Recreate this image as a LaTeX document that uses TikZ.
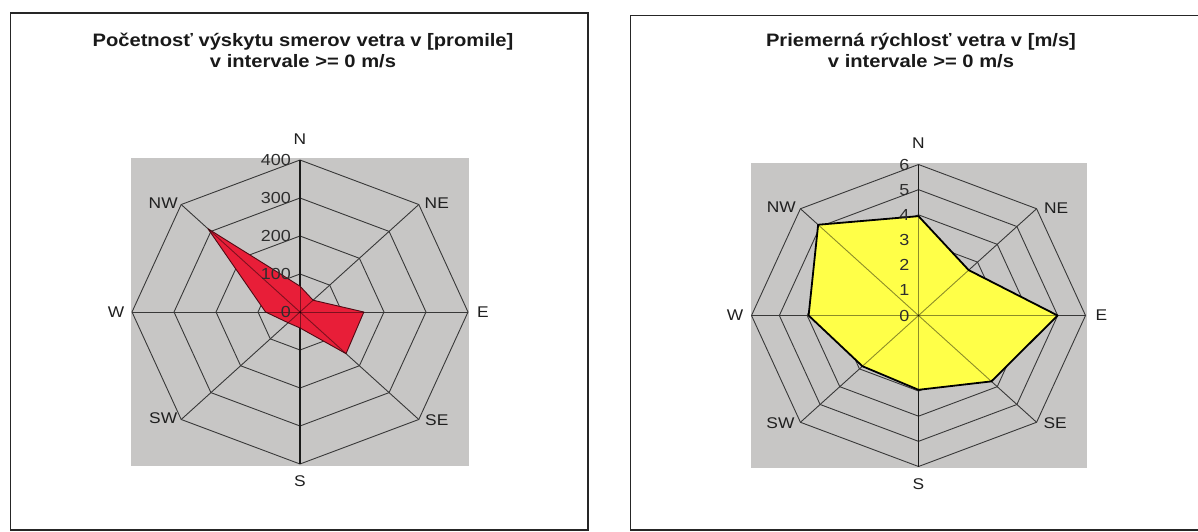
\documentclass[tikz,border=0pt]{standalone}
\usepackage{fontspec}
\setmainfont{Liberation Sans}[FakeStretch=1.12]
\definecolor{bggray}{RGB}{199,198,197}
\definecolor{windred}{RGB}{232,30,56}
\definecolor{windyellow}{RGB}{255,255,72}
\tikzset{
  frame/.style={draw=black!85, line width=1.4pt},
  gridline/.style={draw=black!78, line width=0.9pt},
  axisline/.style={draw=black!90, line width=1.3pt},
  spokeover/.style={draw=black, opacity=0.45, line width=0.9pt},
  dirlabel/.style={font=\fontsize{15.5}{18}\selectfont, text=black!88, inner sep=0pt},
  ticklabel/.style={font=\fontsize{16}{18}\selectfont, text=black!82, inner sep=0pt, anchor=east},
  titlelabel/.style={font=\bfseries\fontsize{18}{21}\selectfont, text=black!90, align=center, inner sep=0pt},
  redpoly/.style={fill=windred, draw=black!65!windred, line width=0.9pt, line join=round},
  yelpoly/.style={fill=windyellow, draw=black, line width=1.8pt, line join=round},
}
\begin{document}
\begin{tikzpicture}[x=1pt,y=-1pt]
\useasboundingbox (0,0) rectangle (1198,531);
\fill[white] (0,0) rectangle (1198,531);

% panel frames
\draw[frame] (10.5,13) rectangle (588,530);
\draw[frame] (1205,15.5) -- (630.5,15.5) -- (630.5,530) -- (1205,530);

% titles
\node[titlelabel] (t1) at (303,50.5) {Početnosť výskytu smerov vetra v [promile]\\v intervale >= 0 m/s};
\node[titlelabel] (t2) at (921,50.5) {Priemerná rýchlosť vetra v [m/s]\\v intervale >= 0 m/s};

% ---------------- left chart ----------------
\begin{scope}[shift={(300,312)}, x=168pt, y=152pt]
  \fill[bggray] (-1.006,-1.01) rectangle (1.006,1.01);
  \foreach \r in {0.25,0.5,0.75,1}
    \draw[gridline] (0:\r) -- (45:\r) -- (90:\r) -- (135:\r) -- (180:\r) -- (225:\r) -- (270:\r) -- (315:\r) -- cycle;
  \foreach \a in {45,135,225,315}
    \draw[gridline] (0,0) -- (\a:1);
  \draw[gridline] (-1,0) -- (1,0);
  \draw[axisline] (0,-1) -- (0,1);
  \path[redpoly] (90:0.17) -- (45:0.11) -- (0:0.38) -- (-45:0.3875) -- (-90:0.105) -- (-135:0.1) -- (180:0.205) -- (135:0.775) -- cycle;
  \begin{scope}
    \clip (90:0.17) -- (45:0.11) -- (0:0.38) -- (-45:0.3875) -- (-90:0.105) -- (-135:0.1) -- (180:0.205) -- (135:0.775) -- cycle;
    \foreach \a in {0,45,...,315}
      \draw[spokeover] (0,0) -- (\a:1);
  \end{scope}
  \foreach \v [count=\i] in {0,100,200,300,400}
    \node[ticklabel, xshift=-9pt] (la\i) at (0,{(\i-1)/4}) {\v};
  \node[dirlabel, yshift=21pt] (lN) at (90:1) {N};
  \node[dirlabel, yshift=-17pt] (lS) at (270:1) {S};
  \node[dirlabel, xshift=-16pt] (lW) at (180:1) {W};
  \node[dirlabel, xshift=15pt] (lE) at (0:1) {E};
  \node[dirlabel, xshift=-18pt, yshift=1.5pt] (lNW) at (135:1) {NW};
  \node[dirlabel, xshift=18pt, yshift=1.5pt] (lNE) at (45:1) {NE};
  \node[dirlabel, xshift=-18pt, yshift=1.5pt] (lSW) at (225:1) {SW};
  \node[dirlabel, xshift=18pt, yshift=-0.5pt] (lSE) at (315:1) {SE};
\end{scope}

% ---------------- right chart ----------------
\begin{scope}[shift={(918.5,315.5)}, x=167pt, y=151pt]
  \fill[bggray] (-1.006,-1.01) rectangle (1.006,1.01);
  \foreach \r in {0.16667,0.33333,0.5,0.66667,0.83333,1}
    \draw[gridline] (0:\r) -- (45:\r) -- (90:\r) -- (135:\r) -- (180:\r) -- (225:\r) -- (270:\r) -- (315:\r) -- cycle;
  \foreach \a in {45,135,225,315}
    \draw[gridline] (0,0) -- (\a:1);
  \draw[gridline] (-1,0) -- (1,0);
  \draw[axisline] (0,-1) -- (0,1);
  \path[yelpoly] (90:0.658) -- (45:0.425) -- (0:0.833) -- (-45:0.617) -- (-90:0.492) -- (-135:0.475) -- (180:0.658) -- (135:0.85) -- cycle;
  \begin{scope}
    \clip (90:0.658) -- (45:0.425) -- (0:0.833) -- (-45:0.617) -- (-90:0.492) -- (-135:0.475) -- (180:0.658) -- (135:0.85) -- cycle;
    \foreach \a in {0,45,...,315}
      \draw[spokeover] (0,0) -- (\a:1);
  \end{scope}
  \foreach \v [count=\i] in {0,1,2,3,4,5,6}
    \node[ticklabel, xshift=-9pt] (ra\i) at (0,{(\i-1)/6}) {\v};
  \node[dirlabel, yshift=21pt] (rN) at (90:1) {N};
  \node[dirlabel, yshift=-18pt] (rS) at (270:1) {S};
  \node[dirlabel, xshift=-16.5pt] (rW) at (180:1) {W};
  \node[dirlabel, xshift=16pt] (rE) at (0:1) {E};
  \node[dirlabel, xshift=-19pt, yshift=1.5pt] (rNW) at (135:1) {NW};
  \node[dirlabel, xshift=19.5pt, yshift=1pt] (rNE) at (45:1) {NE};
  \node[dirlabel, xshift=-20pt, yshift=-0.5pt] (rSW) at (225:1) {SW};
  \node[dirlabel, xshift=18.5pt, yshift=-1pt] (rSE) at (315:1) {SE};
\end{scope}
\end{tikzpicture}
\end{document}
